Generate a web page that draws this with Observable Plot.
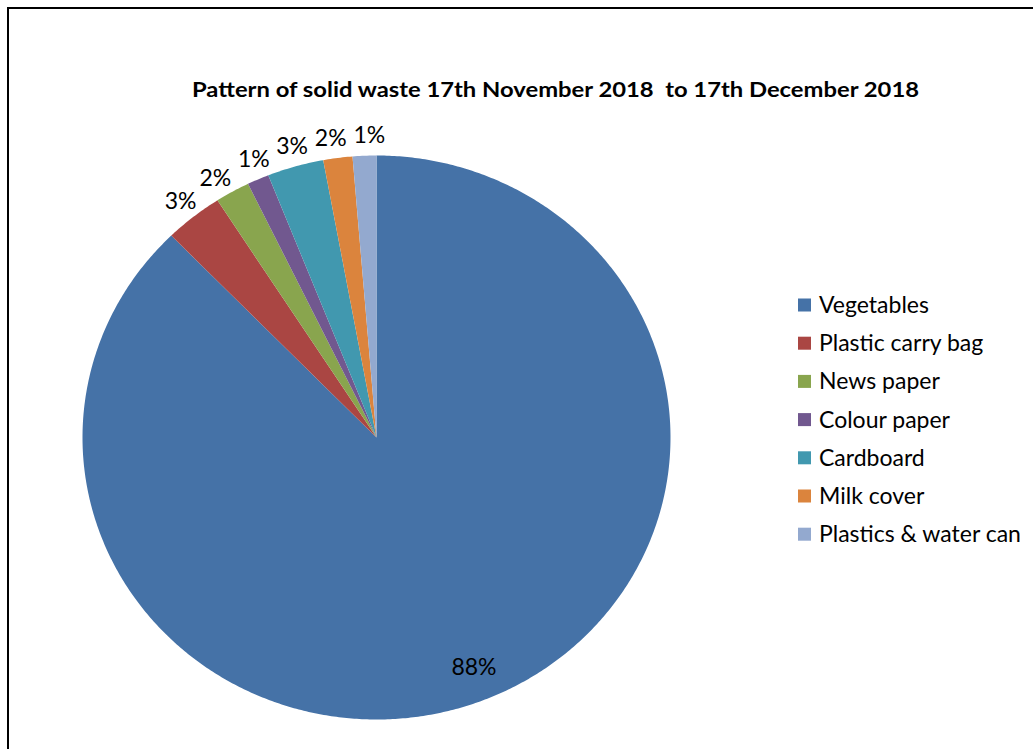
<!DOCTYPE html>
<html><head><meta charset="utf-8">
<script src="https://cdn.jsdelivr.net/npm/d3@7"></script>
<script src="https://cdn.jsdelivr.net/npm/@observablehq/plot@0.6"></script>
<style>body{margin:0;background:#fff;overflow:hidden}</style>
</head><body><div id="chart"></div>
<script>
const categories = ["Vegetables", "Plastic carry bag", "News paper", "Colour paper", "Cardboard", "Milk cover", "Plastics & water can"];
const shares = [87.7, 3.2, 1.9, 1.2, 3.1, 1.6, 1.3];
const colors = ["#4572A7", "#AA4643", "#89A54E", "#71588F", "#4198AF", "#DB843D", "#93A9CF"];
const title = "Pattern of solid waste 17th November 2018  to 17th December 2018";

const total = d3.sum(shares);
let acc = 0;
const slices = categories.map((c, i) => {
  const a0 = acc / total * 2 * Math.PI;
  acc += shares[i];
  const a1 = acc / total * 2 * Math.PI;
  return {category: c, value: shares[i], a0, a1, mid: (a0 + a1) / 2, la: (a0 + a1) / 2,
          label: Math.round(shares[i] / total * 100) + "%", inside: shares[i] / total > 0.5};
});
const pts = slices.flatMap(s => {
  const n = Math.max(2, Math.ceil((s.a1 - s.a0) / (Math.PI / 360)));
  const arr = [{category: s.category, x: 0, y: 0}];
  for (let k = 0; k <= n; k++) {
    const a = s.a0 + (s.a1 - s.a0) * k / n;
    arr.push({category: s.category, x: Math.sin(a), y: Math.cos(a)});
  }
  arr.push({category: s.category, x: 0, y: 0});
  return arr;
});
const labelR = s => s.inside ? 0.88 : 1.07;

// simple label collision relaxation for outside labels (approx pixel units)
const RX = 294, RY = 282, LW = 38, LH = 22;
const outs = slices.filter(s => !s.inside);
for (let it = 0; it < 200; it++) {
  for (let k = 0; k < outs.length - 1; k++) {
    const a = outs[k], b = outs[k + 1];
    const dx = (Math.sin(b.la) - Math.sin(a.la)) * labelR(b) * RX;
    const dy = (Math.cos(b.la) - Math.cos(a.la)) * labelR(b) * RY;
    if (Math.abs(dx) < LW && Math.abs(dy) < LH) {
      a.la -= 0.002; b.la += 0.002;
    }
  }
}

const svg = Plot.plot({
  width: 1033, height: 749,
  x: {domain: [-1, 1], range: [82, 670], axis: null},
  y: {domain: [-1, 1], range: [719, 155], axis: null},
  color: {domain: categories, range: colors},
  style: {fontFamily: "Lato", background: "white"},
  marks: [
    Plot.line(pts, {x: "x", y: "y", z: "category", fill: "category", stroke: "none", curve: "linear"}),
    Plot.text(slices, {x: s => Math.sin(s.la) * labelR(s), y: s => Math.cos(s.la) * labelR(s),
      text: "label", fontSize: 23, fontFamily: "Lato", fill: "black"})
  ]
});
document.getElementById("chart").appendChild(svg);

const root = d3.select(svg);
root.append("rect").attr("x", 8).attr("y", 8).attr("width", 1200).attr("height", 900)
  .attr("fill", "none").attr("stroke", "black").attr("stroke-width", 2);
root.append("text").attr("x", 192).attr("y", 97).attr("font-size", 21).attr("font-weight", "bold")
  .attr("font-family", "Lato")
  .attr("text-anchor", "start").attr("fill", "black").attr("textLength", 727).attr("lengthAdjust", "spacingAndGlyphs")
  .style("white-space", "pre").text(title);
const lg = root.append("g").attr("text-anchor", "start").attr("font-family", "Lato");
categories.forEach((c, i) => {
  const cy = 305 + i * 38.2;
  lg.append("rect").attr("x", 798).attr("y", cy - 6.5).attr("width", 13).attr("height", 13).attr("fill", colors[i]);
  lg.append("text").attr("x", 819).attr("y", cy + 8).attr("font-size", 23).attr("fill", "black").text(c);
});
</script></body></html>
